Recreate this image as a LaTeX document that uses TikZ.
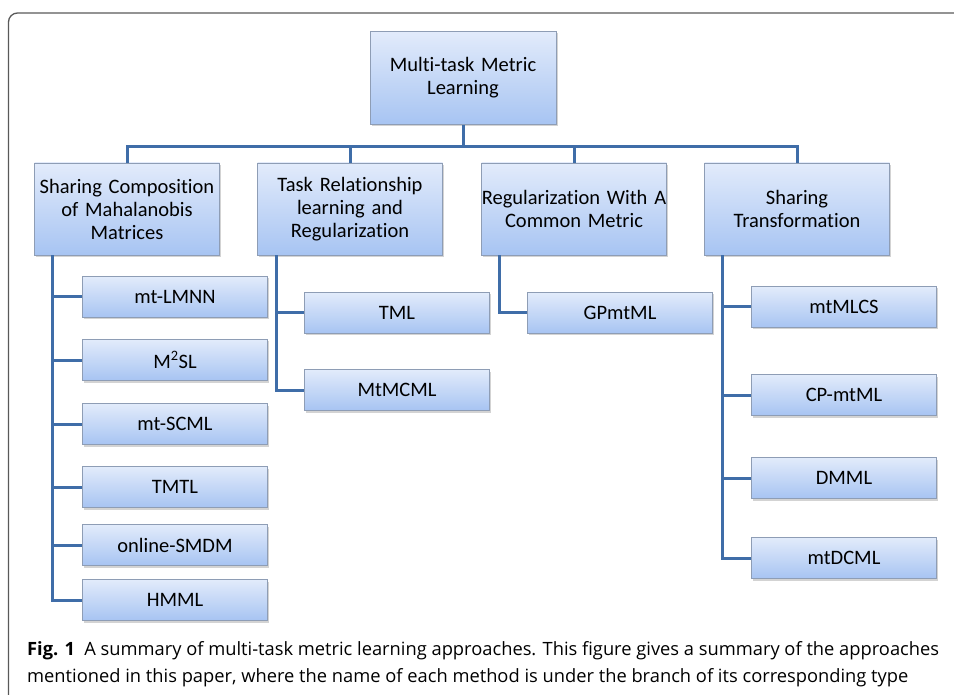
\documentclass[tikz,border=0pt]{standalone}
\usepackage{fontspec}
\setmainfont[Ligatures=NoCommon, WordSpace=0.85]{Carlito}
\newfontfamily\capfont{Open Sans}
\usepackage{tikz}
\usetikzlibrary{shadows}
\definecolor{linkblue}{HTML}{3F6DA8}
\definecolor{boxtop}{HTML}{E2EBFB}
\definecolor{boxbot}{HTML}{A7C4F2}
\definecolor{boxline}{HTML}{8E9DB5}
\begin{document}
\begin{tikzpicture}[x=1pt,y=-1pt,
        box/.style={draw=boxline, line width=0.8pt, top color=boxtop, bottom color=boxbot,
            drop shadow={shadow xshift=1.5pt, shadow yshift=-2pt, opacity=0.35},
            align=center, inner sep=2pt, font=\fontsize{20.5}{23}\selectfont},
        typebox/.style={box, inner xsep=0pt, minimum width=185pt, minimum height=92pt, text width=185pt},
        methodbox/.style={box, minimum width=185pt, minimum height=41pt},
        link/.style={draw=linkblue, line width=3pt},
        captext/.style={anchor=base west, inner sep=0pt, font=\capfont\fontsize{18.3}{22}\selectfont}]
    \useasboundingbox (0,0) rectangle (954,695);
    % frame
    \draw[gray!70!black, line width=1.3pt, rounded corners=9pt] (8.5,695) -- (8.5,13) -- (954,13);
    % root and types
    \node[typebox, minimum width=186pt, minimum height=93pt] (root) at (463,78) {Multi-task Metric\\Learning};
    \node[typebox] (t1) at (127,209) {Sharing Composition\\of Mahalanobis\\Matrices};
    \node[typebox] (t2) at (350,209) {Task Relationship\\learning and\\Regularization};
    \node[typebox] (t3) at (574,209) {Regularization With A\\Common Metric};
    \node[typebox] (t4) at (797,209) {Sharing\\Transformation};
    % bus
    \draw[link] (root.south) -- ++(0,22) coordinate (bus);
    \draw[link] (t1.north) -- (t1.north |- bus) -- (t4.north |- bus) -- (t4.north);
    \draw[link] (t2.north) -- (t2.north |- bus);
    \draw[link] (t3.north) -- (t3.north |- bus);
    % methods
    \node[methodbox] (m11) at (175,297) {mt-LMNN};
    \node[methodbox] (m12) at (175,360) {M\textsuperscript{2}SL};
    \node[methodbox] (m13) at (175,424) {mt-SCML};
    \node[methodbox] (m14) at (175,487) {TMTL};
    \node[methodbox] (m15) at (175,545) {online-SMDM};
    \node[methodbox] (m16) at (175,600) {HMML};
    \node[methodbox] (m21) at (397,313) {TML};
    \node[methodbox] (m22) at (397,390) {MtMCML};
    \node[methodbox] (m31) at (620,313) {GPmtML};
    \node[methodbox] (m41) at (844,307) {mtMLCS};
    \node[methodbox] (m42) at (844,395) {CP-mtML};
    \node[methodbox] (m43) at (844,478) {DMML};
    \node[methodbox] (m44) at (844,558) {mtDCML};
    % branches
    \foreach \m in {11,12,13,14,15,16}
        \draw[link] ([xshift=18pt]t1.south west) |- (m\m.west);
    \foreach \m in {21,22}
        \draw[link] ([xshift=19pt]t2.south west) |- (m\m.west);
    \draw[link] ([xshift=18pt]t3.south west) |- (m31.west);
    \foreach \m in {41,42,43,44}
        \draw[link] ([xshift=18pt]t4.south west) |- (m\m.west);
    % caption
    \node[captext] (cap1) at (27,655)
        {\textbf{Fig. 1}\enspace A summary of multi-task metric learning approaches. This figure gives a summary of the approaches};
    \node[captext] (cap2) at (27,682)
        {mentioned in this paper, where the name of each method is under the branch of its corresponding type};
\end{tikzpicture}
\end{document}
